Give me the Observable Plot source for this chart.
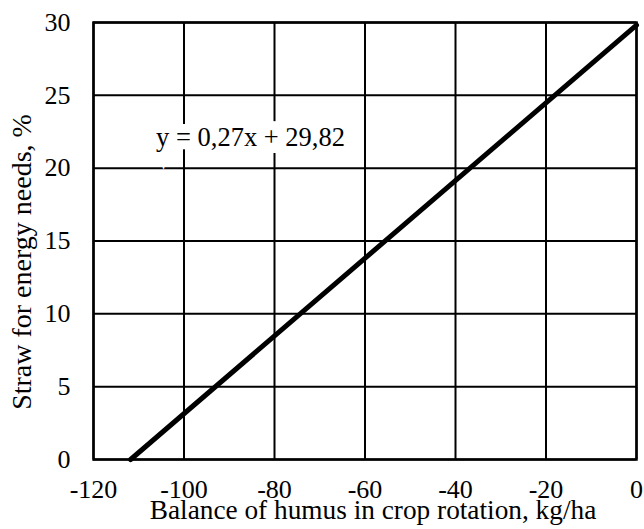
<!DOCTYPE html>
<html>
<head>
<meta charset="utf-8">
<script src="https://cdn.jsdelivr.net/npm/d3@7"></script>
<script src="https://cdn.jsdelivr.net/npm/@observablehq/plot@0.6"></script>
<style>
  html, body { margin: 0; padding: 0; background: #fff; }
  svg { font-family: "Liberation Serif", "Times New Roman", serif; }
</style>
</head>
<body>
<div id="chart"></div>
<script>
// Regression line endpoints
const lineX = [-111.8, 0];
const lineY = [0, 29.82];
// Tick values
const xTicks = [-120, -100, -80, -60, -40, -20, 0];
const yTicks = [0, 5, 10, 15, 20, 25, 30];
// Texts
const eqText = ["y = 0,27x + 29,82"];
const eqX = [-85.3];
const eqY = [22.1];
const xTitle = "Balance of humus in crop rotation, kg/ha";
const yTitle = "Straw for energy needs, %";

const lineData = lineX.map((x, i) => ({x, y: lineY[i]}));
const eqData = eqText.map((t, i) => ({t, x: eqX[i], y: eqY[i]}));
const FONT = '"Liberation Serif", "Times New Roman", serif';

const chart = Plot.plot({
  width: 644,
  height: 529,
  marginLeft: 93,
  marginRight: 8,
  marginTop: 22,
  marginBottom: 70,
  style: {fontFamily: FONT, fontSize: "26px", color: "#000", background: "#fff", overflow: "visible"},
  x: {domain: [-120, 0]},
  y: {domain: [0, 30]},
  marks: [
    Plot.gridX(xTicks, {stroke: "#000", strokeOpacity: 1, strokeWidth: 2}),
    Plot.gridY(yTicks, {stroke: "#000", strokeOpacity: 1, strokeWidth: 2}),
    Plot.text(eqData, {x: "x", y: "y", text: "t", fontSize: 26.5, fontFamily: FONT, fill: "#000", stroke: "#fff", strokeWidth: 18, strokeLinejoin: "miter"}),
    Plot.line(lineData, {x: "x", y: "y", stroke: "#000", strokeWidth: 5}),
    Plot.frame({stroke: "#000", strokeWidth: 2.5}),
    Plot.axisX(xTicks, {tickSize: 0, tickPadding: 20, fontSize: 26, fontFamily: FONT, tickFormat: d => String(d), label: null}),
    Plot.axisY(yTicks, {tickSize: 0, tickPadding: 23, fontSize: 26, fontFamily: FONT, tickFormat: d => String(d), label: null}),
    Plot.text([xTitle], {frameAnchor: "bottom", text: d => d, dy: 59, dx: 8, fontSize: 27.3, fontFamily: FONT, fill: "#000"}),
    Plot.text([yTitle], {frameAnchor: "left", textAnchor: "middle", text: d => d, dx: -71, dy: 21, rotate: -90, fontSize: 28, fontFamily: FONT, fill: "#000"})
  ]
});
document.getElementById("chart").appendChild(chart);
</script>
</body>
</html>
